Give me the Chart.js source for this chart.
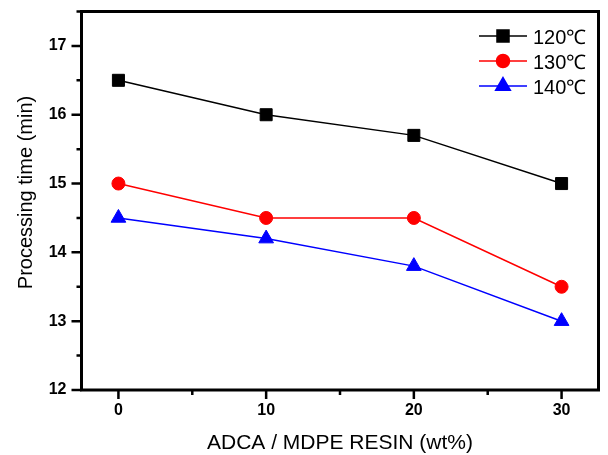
<!DOCTYPE html>
<html><head><meta charset="utf-8">
<script src="https://cdn.jsdelivr.net/npm/chart.js@4/dist/chart.umd.min.js"></script>
<style>html,body{margin:0;padding:0;background:#fff}#wrap{width:608px;height:455px}</style>
</head><body><div id="wrap"><canvas id="c" width="608" height="455"></canvas></div>
<script>
const xValues = [0, 10, 20, 30];
const series120 = [16.5, 16.0, 15.7, 15.0];
const series130 = [15.0, 14.5, 14.5, 13.5];
const series140 = [14.5, 14.2, 13.8, 13.0];
const seriesLabels = ['120\u2103', '130\u2103', '140\u2103'];
const xTickLabels = [0, 10, 20, 30];
const xMinorTicks = [5, 15, 25];
const yTickLabels = [12, 13, 14, 15, 16, 17];
const yMinorTicks = [12.5, 13.5, 14.5, 15.5, 16.5, 17.5];
const xTitle = 'ADCA / MDPE RESIN (wt%)';
const yTitle = 'Processing time (min)';

const FONT = 'Arial, "Liberation Sans", sans-serif';
Chart.defaults.font.family = FONT;
const toPts = arr => arr.map((y, i) => ({x: xValues[i], y}));

const framePlugin = {
  id: 'frame',
  afterDraw(chart) {
    const ctx = chart.ctx, a = chart.chartArea;
    const xs = chart.scales.x, ys = chart.scales.y;
    ctx.save();
    ctx.strokeStyle = '#000';
    ctx.lineWidth = 3;
    ctx.strokeRect(a.left, a.top, a.right - a.left, a.bottom - a.top);
    ctx.lineWidth = 2.5;
    ctx.beginPath();
    xTickLabels.forEach(v => { const p = xs.getPixelForValue(v); ctx.moveTo(p, a.bottom); ctx.lineTo(p, a.bottom + 9); });
    xMinorTicks.forEach(v => { const p = xs.getPixelForValue(v); ctx.moveTo(p, a.bottom); ctx.lineTo(p, a.bottom + 5); });
    yTickLabels.forEach(v => { const p = ys.getPixelForValue(v); ctx.moveTo(a.left, p); ctx.lineTo(a.left - 10, p); });
    yMinorTicks.forEach(v => { const p = ys.getPixelForValue(v); ctx.moveTo(a.left, p); ctx.lineTo(a.left - 5, p); });
    ctx.stroke();
    // titles
    ctx.fillStyle = '#000';
    ctx.font = '21px ' + FONT;
    ctx.textAlign = 'center';
    ctx.textBaseline = 'alphabetic';
    ctx.fillText(xTitle, 340, 449);
    ctx.save();
    ctx.font = '20px ' + FONT;
    ctx.translate(32, 192.5);
    ctx.rotate(-Math.PI / 2);
    ctx.fillText(yTitle, 0, 0);
    ctx.restore();
    // legend
    const rows = [36, 61, 86];
    chart.data.datasets.forEach((ds, i) => {
      const y = rows[i];
      ctx.strokeStyle = ds.borderColor;
      ctx.fillStyle = ds.borderColor;
      ctx.lineWidth = 1.5;
      ctx.beginPath(); ctx.moveTo(479, y); ctx.lineTo(527, y); ctx.stroke();
      Chart.helpers.drawPoint(ctx, {pointStyle: ds.pointStyle, radius: ds.pointRadius, borderWidth: 1, rotation: 0}, 503, y);
      ctx.fillStyle = '#000';
      ctx.textAlign = 'left';
      ctx.textBaseline = 'alphabetic';
      ctx.font = '20px ' + FONT;
      ctx.fillText(ds.label, 533, y + 7.5);
    });
    ctx.restore();
  }
};

function mk(label, data, color, style, r) {
  return {label, data: toPts(data), borderColor: color, backgroundColor: color,
    pointBackgroundColor: color, pointBorderColor: color, pointStyle: style,
    pointRadius: r, pointHoverRadius: r, pointBorderWidth: 1, borderWidth: 1.5, tension: 0, fill: false};
}

const zeroPad = s => { s.paddingTop = 0; s.paddingBottom = 0; s.paddingLeft = 0; s.paddingRight = 0; };

new Chart(document.getElementById('c'), {
  type: 'line',
  data: {datasets: [
    mk(seriesLabels[0], series120, '#000000', 'rect', 8.5),
    mk(seriesLabels[1], series130, '#ff0000', 'circle', 6.5),
    mk(seriesLabels[2], series140, '#0000ff', 'triangle', 8.5)
  ]},
  options: {
    responsive: false, animation: false, devicePixelRatio: 1,
    layout: {padding: {top: 11.5, right: 6.5, left: 0, bottom: 0}},
    plugins: {legend: {display: false}, tooltip: {enabled: false}},
    scales: {
      x: {type: 'linear', min: -2.5, max: 32.5,
        grid: {display: false, drawTicks: false}, border: {display: false},
        afterBuildTicks: s => { s.ticks = xTickLabels.map(v => ({value: v})); },
        afterFit: s => { s.height = 65; zeroPad(s); },
        ticks: {color: '#000', font: {family: FONT, size: 16, weight: 'bold'}, padding: 11, maxRotation: 0}
      },
      y: {type: 'linear', min: 12, max: 17.5,
        grid: {display: false, drawTicks: false}, border: {display: false},
        afterBuildTicks: s => { s.ticks = yTickLabels.map(v => ({value: v})); },
        afterFit: s => { s.width = 81.5; zeroPad(s); },
        ticks: {color: '#000', font: {family: FONT, size: 16, weight: 'bold'}, padding: 15}
      }
    }
  },
  plugins: [framePlugin]
});
</script></body></html>
